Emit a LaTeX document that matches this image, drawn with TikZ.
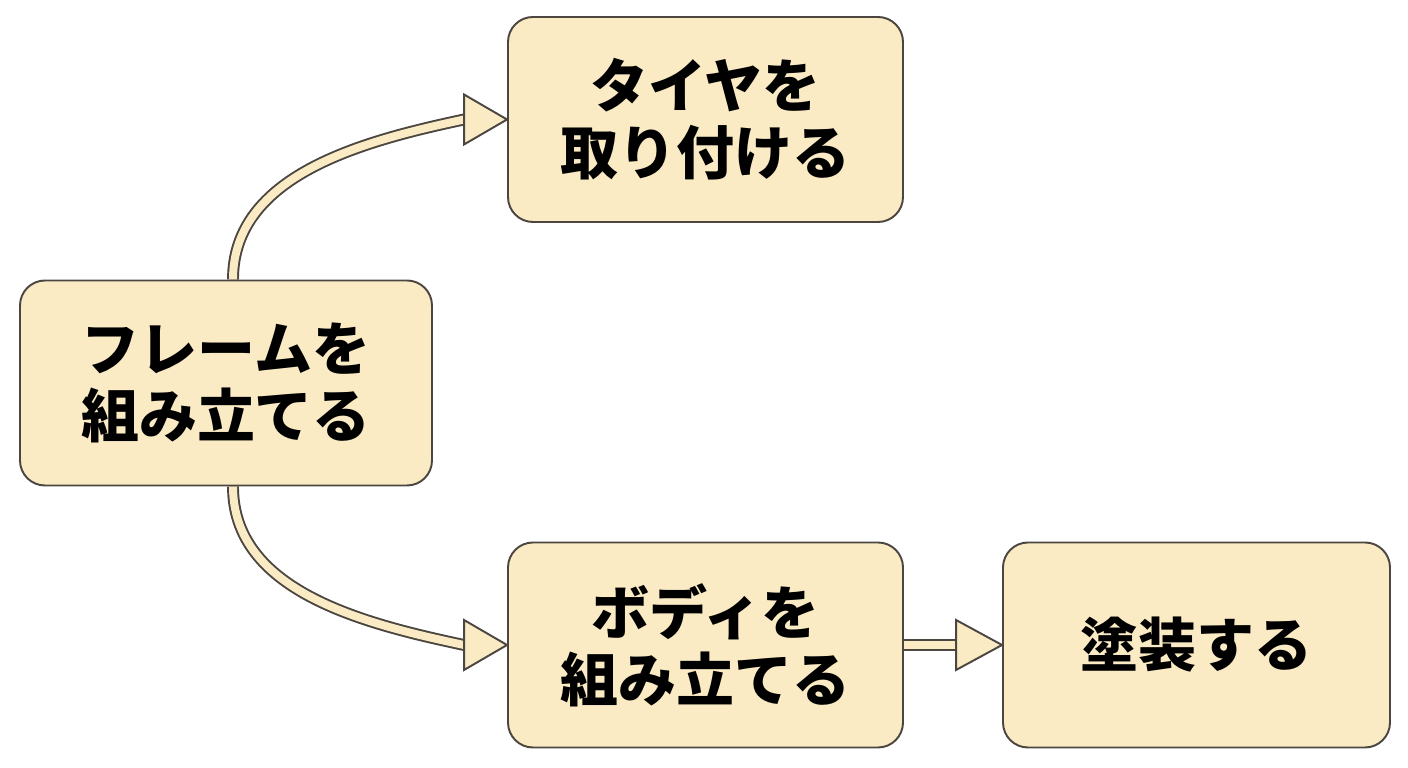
\documentclass[tikz,border=0pt]{standalone}
\usepackage{fontspec}
\newfontfamily\jp{Noto Sans CJK JP}
\usepackage{tikz}
\usetikzlibrary{calc,positioning,backgrounds}
\definecolor{boxfill}{HTML}{FAEBC5}
\definecolor{edgecol}{HTML}{4B4640}
\begin{document}
\begin{tikzpicture}[font=\jp\bfseries\fontsize{33pt}{38pt}\selectfont,
  stepbox/.style={draw=edgecol, fill=boxfill, line width=1.1pt, rounded corners=0.5cm,
    minimum height=4.1cm, align=center, inner sep=0pt},
  shaft/.style={draw=edgecol, line width=1.1pt, double=boxfill, double distance=0.16cm},
  headtri/.style={draw=edgecol, fill=boxfill, line width=1.1pt, line join=miter}]
\useasboundingbox (0,0) rectangle (28.16,15.36);
\node[stepbox, minimum width=7.9cm] (tire) at (14.11,12.97) {タイヤを\\取り付ける};
\node[stepbox, minimum width=8.24cm] (frame) at (4.52,7.70) {フレームを\\組み立てる};
\node[stepbox, minimum width=7.9cm] (body) at (14.11,2.46) {ボディを\\組み立てる};
\node[stepbox, minimum width=7.74cm] (paint) at (23.93,2.46) {塗装する};
% arrow tails end at the base of each head
\coordinate (h1) at ($(tire.west)+(-0.86,0)$);
\coordinate (h2) at ($(body.west)+(-0.86,0)$);
\coordinate (h3) at ($(paint.west)+(-0.92,0)$);
\begin{scope}[on background layer]
\draw[shaft] ($(frame.north)+(0.14,0)$) to[out=90,in=192,looseness=0.95] (h1);
\draw[shaft] ($(frame.south)+(0.14,0)$) to[out=-90,in=168,looseness=0.95] (h2);
\draw[shaft] (body.east) -- (h3);
\end{scope}
\foreach \n/\l in {tire/0.86,body/0.86,paint/0.92}
  \draw[headtri] (\n.west) -- ++(-\l,0.5) -- ++(0,-1) -- cycle;
\end{tikzpicture}
\end{document}
